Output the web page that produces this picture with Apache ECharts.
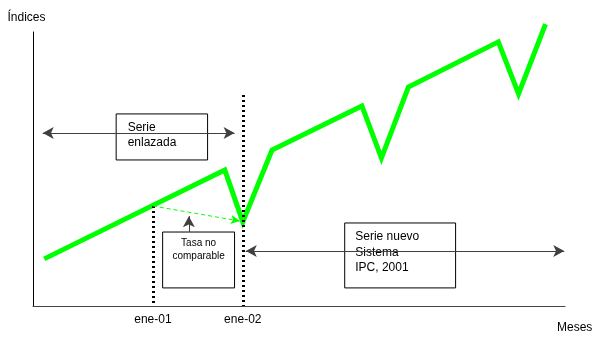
<!DOCTYPE html>
<html><head><meta charset="utf-8">
<script src="https://cdn.jsdelivr.net/npm/echarts@6/dist/echarts.min.js"></script>
<style>html,body{margin:0;padding:0;background:#fff}#c{width:600px;height:342px}</style>
</head><body><div id="c"></div>
<script>
// Series (month index, index value)
const months  = [1.5, 25.6, 28, 31.9, 43.9, 46.5, 50.1, 62.1, 64.8, 68.4];
const indices = [17.2, 49.6, 30.7, 56.9, 73.0, 54.0, 79.9, 96.4, 77.4, 102.9];
// Tick labels
const tickMonths = [16, 28];
const tickLabels = ['ene-01', 'ene-02'];
// Vertical reference lines: [month, top value]
const refLines = [[16, 36.5], [28, 77.0]];
// Annotation boxes: text, [x0,x1], [y0,y1]
const boxTexts = ['Serie\nenlazada', 'Tasa no\ncomparable', 'Serie nuevo\nSistema\nIPC, 2001'];
const boxX = [[11.1, 23.3], [17.3, 26.9], [41.6, 56.4]];
const boxY = [[53.3, 70.1], [6.6, 27.0], [6.6, 30.3]];
// Arrows: [[x1,y1],[x2,y2]]
const spanArrows = [[[1.3, 63.1], [26.9, 63.1]], [[28.4, 20.1], [70.9, 20.1]]];
const tasaArrow = [[20.8, 27.0], [20.8, 32.8]];
const dashArrow = [[16, 36.5], [27.6, 31.0]];

const chart = echarts.init(document.getElementById('c'), null, {renderer: 'canvas'});
const font = 'Liberation Sans, Arial, sans-serif';
const boxStyles = [
  {position: 'insideTopLeft', distance: 5, offset: [7, 2], fontSize: 12, lineHeight: 15, align: 'left'},
  {position: 'insideTop', distance: 5, offset: [0, 0], fontSize: 10, lineHeight: 13, align: 'center'},
  {position: 'insideTopLeft', distance: 5, offset: [6, 1.5], fontSize: 12, lineHeight: 15.5, align: 'left'}
];
const option = {
  animation: false,
  textStyle: {fontFamily: font},
  grid: {left: 33, right: 35, top: 32, bottom: 36},
  xAxis: {
    type: 'value', min: 0, max: 71, interval: 4,
    splitLine: {show: false},
    axisLine: {lineStyle: {color: '#444', width: 1}},
    axisTick: {show: false},
    axisLabel: {
      color: '#000', fontSize: 12, fontFamily: font, margin: 8, showMaxLabel: false,
      formatter: v => { const i = tickMonths.indexOf(v); return i >= 0 ? tickLabels[i] : ''; }
    },
    name: 'Meses', nameLocation: 'end', nameGap: -8,
    nameTextStyle: {color: '#000', fontSize: 12, fontFamily: font, align: 'left', verticalAlign: 'top', padding: [16, 0, 0, 0]}
  },
  yAxis: {
    type: 'value', min: 0, max: 100,
    splitLine: {show: false},
    axisLine: {show: true, lineStyle: {color: '#000', width: 1}},
    axisTick: {show: false},
    axisLabel: {show: false},
    name: 'Índices', nameLocation: 'end', nameGap: 8,
    nameTextStyle: {color: '#000', fontSize: 12, fontFamily: font, align: 'center', padding: [0, 13, 0, 0]}
  },
  series: [
    {
      type: 'line', z: 3, clip: false, symbol: 'none', silent: true,
      data: months.map((m, i) => [m, indices[i]]),
      lineStyle: {color: '#00ff00', width: 5, join: 'miter'}
    },
    {
      type: 'line', z: 4, data: [], silent: true,
      markLine: {
        silent: true, symbol: 'none', label: {show: false},
        lineStyle: {color: '#000', width: 3, type: [2, 3]},
        data: refLines.map(r => [{coord: [r[0], r[1]]}, {coord: [r[0], 0]}])
      }
    },
    {
      type: 'line', z: 2, data: [], silent: true,
      markLine: {
        silent: true, symbol: ['arrow', 'arrow'], symbolSize: [9, 11], label: {show: false},
        lineStyle: {color: '#404040', width: 1, type: 'solid'},
        itemStyle: {color: '#000'},
        data: spanArrows.map(a => [{coord: a[0]}, {coord: a[1]}])
      }
    },
    {
      type: 'line', z: 2, data: [], silent: true,
      markLine: {
        silent: true, symbol: ['none', 'arrow'], symbolSize: [9, 11], label: {show: false},
        lineStyle: {color: '#404040', width: 1, type: 'solid'},
        itemStyle: {color: '#000'},
        data: [[{coord: tasaArrow[0]}, {coord: tasaArrow[1]}]]
      }
    },
    {
      type: 'line', z: 2, data: [], silent: true,
      markLine: {
        silent: true, symbol: ['none', 'arrow'], symbolSize: [7, 9], label: {show: false},
        lineStyle: {color: '#00ff00', width: 1, type: [4, 3]},
        itemStyle: {color: '#00ff00'},
        data: [[{coord: dashArrow[0]}, {coord: dashArrow[1]}]]
      }
    },
    {
      type: 'line', z: 6, data: [], silent: true,
      markArea: {
        silent: true,
        data: boxTexts.map((t, i) => [
          {
            name: t, coord: [boxX[i][0], boxY[i][1]],
            itemStyle: {color: '#fff', borderColor: '#000', borderWidth: 1, opacity: 1},
            label: Object.assign({show: true, color: '#000', fontFamily: font}, boxStyles[i])
          },
          {coord: [boxX[i][1], boxY[i][0]]}
        ])
      }
    }
  ]
};
chart.setOption(option);
</script>
</body></html>
